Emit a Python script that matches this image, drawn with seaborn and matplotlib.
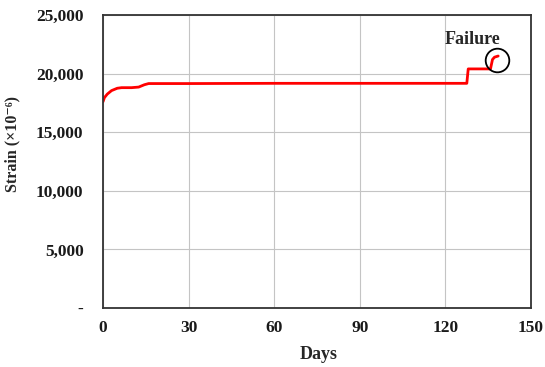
import matplotlib
matplotlib.use("Agg")
import matplotlib.pyplot as plt
import seaborn as sns
import pandas as pd
from matplotlib.ticker import MultipleLocator

days = [0, 0.5, 1.5, 3, 5, 6.5, 10, 12.5, 14.5, 16, 30, 60, 90, 110, 127.5, 128, 132, 135.8, 136.5, 137.2, 138.5]
strain = [17600, 17950, 18250, 18550, 18750, 18800, 18800, 18850, 19050, 19150, 19150, 19170, 19170, 19170, 19170, 20400, 20400, 20400, 21200, 21400, 21500]
xticks = [0, 30, 60, 90, 120, 150]
yticks = [0, 5000, 10000, 15000, 20000, 25000]
ytick_labels = ["-", "5,000", "10,000", "15,000", "20,000", "25,000"]
fail_day, fail_strain = 138, 21150

df = pd.DataFrame({"Days": days, "Strain": strain})

sns.set_theme(style="white")
plt.rcParams["font.family"] = ["Liberation Serif", "DejaVu Serif"]

fig = plt.figure(figsize=(5.45, 3.67), dpi=100)
ax = fig.add_axes([103/545, 1-308/367, 428/545, 293/367])

sns.lineplot(data=df, x="Days", y="Strain", ax=ax, color="#ff0000", linewidth=2, estimator=None, sort=False)

ax.set_xlim(0, 150)
ax.set_ylim(0, 25000)
ax.set_xticks(xticks)
ax.set_xticklabels([str(t) for t in xticks], fontweight="bold", fontsize=12.5)
ax.set_yticks(yticks)
ax.set_yticklabels(ytick_labels, fontweight="bold", fontsize=12.5)
ax.xaxis.set_minor_locator(MultipleLocator(6))
ax.yaxis.set_minor_locator(MultipleLocator(2500))
ax.tick_params(which="major", direction="in", length=5, width=1, colors="#333333", labelcolor="#1a1a1a")
ax.tick_params(axis="y", which="major", pad=14)
ax.tick_params(axis="x", which="major", pad=9)
ax.tick_params(which="minor", direction="in", length=3, width=1, colors="#333333")
ax.grid(True, which="major", color="#c4c4c4", linewidth=0.8)
for s in ax.spines.values():
    s.set_color("#333333")
    s.set_linewidth(1.3)

ax.set_xlabel("Days", fontweight="bold", fontsize=13)
ax.xaxis.set_label_coords(0.505, -0.13)
ax.set_ylabel("Strain (×10⁻⁶)", fontweight="bold", fontsize=11.5)
ax.yaxis.set_label_coords(-0.194, 0.56)

ax.plot([fail_day], [fail_strain], marker="o", markersize=17, markerfacecolor="none",
        markeredgecolor="black", markeredgewidth=1.3)
ax.text(fail_day - 8.5, fail_strain + 1750, "Failure", fontweight="bold", fontsize=13, ha="center", va="center")

fig.savefig("out.png", dpi=100)
